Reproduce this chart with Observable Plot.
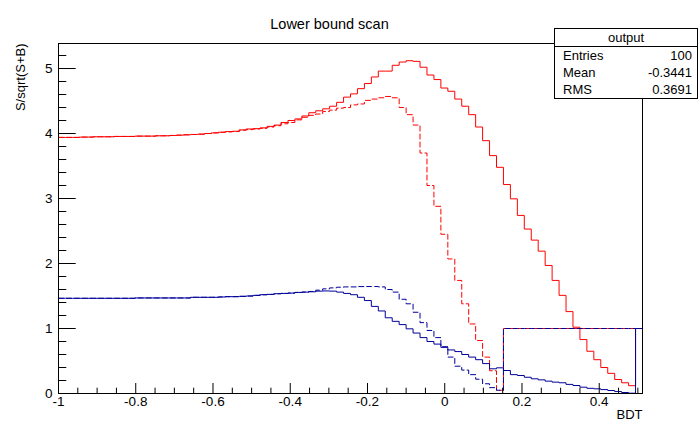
<!DOCTYPE html>
<html>
<head>
<meta charset="utf-8">
<script src="https://cdn.jsdelivr.net/npm/d3@7"></script>
<script src="https://cdn.jsdelivr.net/npm/@observablehq/plot@0.6"></script>
<style>
  body { margin: 0; background: #fff; font-family: "Liberation Sans", Arial, sans-serif; }
  #wrap { position: relative; width: 698px; height: 423px; overflow: hidden; }
  #stats { position: absolute; left: 554px; top: 28px; width: 142px; height: 69px;
           border: 1px solid #000; background: #fff; font-size: 13px; color: #000; box-sizing: content-box; }
  #stats .hdr { height: 17px; line-height: 18px; text-align: center; border-bottom: 1px solid #000; }
  #stats .row { display: flex; justify-content: space-between; height: 17px; line-height: 17px; padding: 0 5px 0 8px; }
</style>
</head>
<body>
<div id="wrap"><div id="chart"></div><div id="stats"></div></div>
<script>
// Histogram definition
const xMin = -1, xMax = 0.512, nBins = 84;

// S/sqrt(S+B) per bin (lower-bound cut scan)
const redSolid = [
  3.94,3.94,3.94,3.945,3.945,3.95,3.95,3.95,3.955,3.955,
  3.955,3.96,3.96,3.96,3.965,3.965,3.97,3.975,3.98,3.985,
  3.99,4.0,4.01,4.02,4.03,4.035,4.056,4.07,4.075,4.087,
  4.11,4.13,4.17,4.20,4.225,4.27,4.32,4.35,4.38,4.42,
  4.48,4.56,4.61,4.69,4.77,4.87,4.96,4.96,5.05,5.10,
  5.12,5.11,5.02,4.90,4.83,4.70,4.65,4.53,4.42,4.29,
  4.10,3.89,3.66,3.48,3.215,2.995,2.74,2.53,2.36,2.19,
  1.97,1.74,1.51,1.26,1.02,0.83,0.65,0.52,0.40,0.31,
  0.215,0.165,0.12,1
];
const redDashed = [
  3.94,3.94,3.94,3.945,3.945,3.95,3.95,3.95,3.955,3.955,
  3.955,3.96,3.96,3.96,3.965,3.965,3.97,3.975,3.98,3.985,
  3.99,4.0,4.01,4.02,4.025,4.03,4.05,4.06,4.07,4.08,
  4.10,4.12,4.15,4.17,4.21,4.25,4.28,4.30,4.34,4.36,
  4.39,4.40,4.44,4.455,4.51,4.53,4.55,4.57,4.55,4.40,
  4.29,4.13,3.70,3.20,2.88,2.45,2.07,1.74,1.38,1.07,
  0.815,0.56,0.35,0.05,1,1,1,1,1,1,
  1,1,1,1,1,1,1,1,1,1,
  1,1,1,1
];
const blueSolid = [
  1.465,1.465,1.465,1.465,1.465,1.465,1.465,1.465,1.465,1.465,
  1.465,1.47,1.47,1.47,1.47,1.47,1.47,1.47,1.47,1.48,
  1.48,1.48,1.48,1.485,1.49,1.49,1.495,1.50,1.51,1.52,
  1.525,1.535,1.54,1.545,1.555,1.56,1.565,1.575,1.578,1.575,
  1.56,1.54,1.52,1.48,1.43,1.34,1.27,1.165,1.11,1.06,
  0.995,0.93,0.86,0.80,0.76,0.71,0.67,0.645,0.60,0.56,
  0.52,0.46,0.38,0.395,0.354,0.29,0.277,0.25,0.226,0.21,
  0.19,0.175,0.165,0.14,0.123,0.097,0.08,0.072,0.06,0.046,
  0.03,0.015,0.005,1
];
const blueDashed = [
  1.465,1.465,1.465,1.465,1.465,1.465,1.465,1.465,1.465,1.465,
  1.465,1.47,1.47,1.47,1.47,1.47,1.47,1.47,1.47,1.48,
  1.48,1.48,1.48,1.485,1.49,1.49,1.495,1.50,1.51,1.52,
  1.525,1.535,1.54,1.545,1.555,1.56,1.57,1.59,1.61,1.625,
  1.635,1.64,1.64,1.645,1.646,1.646,1.64,1.60,1.56,1.45,
  1.38,1.25,1.09,0.97,0.86,0.72,0.56,0.42,0.36,0.29,
  0.22,0.15,0.09,0.05,1,1,1,1,1,1,
  1,1,1,1,1,1,1,1,1,1,
  1,1,1,1
];

// Axis ticks and labels
const xMajor = [-1, -0.8, -0.6, -0.4, -0.2, 0, 0.2, 0.4];
const xTickLabels = ["-1", "-0.8", "-0.6", "-0.4", "-0.2", "0", "0.2", "0.4"];
const xMinor = d3.range(0, 31).map(i => -1 + i * 0.05).filter(v => !xMajor.some(m => Math.abs(m - v) < 1e-9));
const yMajor = [0, 1, 2, 3, 4, 5];
const yTickLabels = ["0", "1", "2", "3", "4", "5"];
const yMinor = d3.range(0, 27).map(i => i * 0.2).filter(v => !yMajor.some(m => Math.abs(m - v) < 1e-9));

const titleText = "Lower bound scan";
const xLabel = "BDT";
const yLabel = "S/sqrt(S+B)";

const statsName = "output";
const statsKeys = ["Entries", "Mean", "RMS"];
const statsVals = ["100", "-0.3441", "0.3691"];

const series = [
  {name: "red solid", values: redSolid, color: "#ff0000", dash: null},
  {name: "red dashed", values: redDashed, color: "#ff0000", dash: "5,3"},
  {name: "blue solid", values: blueSolid, color: "#000099", dash: null},
  {name: "blue dashed", values: blueDashed, color: "#000099", dash: "5,3"}
];
const bw = (xMax - xMin) / nBins;
function steps(vals) {
  const pts = vals.map((v, k) => ({x: xMin + k * bw, y: v}));
  pts.push({x: xMax, y: vals[vals.length - 1]});
  return pts;
}

const lineMarks = series.map(s => Plot.line(steps(s.values), {
  x: "x", y: "y", curve: "step-after", stroke: s.color, strokeWidth: 1,
  strokeDasharray: s.dash
}));

const chart = Plot.plot({
  width: 698,
  height: 423,
  marginLeft: 58,
  marginRight: 56,
  marginTop: 43,
  marginBottom: 30,
  style: {fontFamily: "'Liberation Sans', Arial, sans-serif", fontSize: "13px", background: "#fff", color: "#000"},
  x: {domain: [xMin, xMax]},
  y: {domain: [0, 5.385]},
  marks: [
    ...lineMarks,
    Plot.frame({stroke: "#000", strokeWidth: 1}),
    Plot.axisY(yMajor, {tickSize: -17.7, tickFormat: () => "", label: null, strokeWidth: 1}),
    Plot.axisY(yMinor, {tickSize: -8.3, tickFormat: () => "", label: null, strokeWidth: 1}),
    Plot.axisY(yMajor, {tickSize: 0, tickPadding: 6, fontSize: 13.5, label: null,
      tickFormat: d => yTickLabels[yMajor.indexOf(d)]}),
    Plot.axisX(xMajor, {tickSize: -10, tickFormat: () => "", label: null, strokeWidth: 1}),
    Plot.axisX(xMinor, {tickSize: -5.3, tickFormat: () => "", label: null, strokeWidth: 1}),
    Plot.axisX(xMajor, {tickSize: 0, tickPadding: 3, fontSize: 13.5, label: null,
      tickFormat: d => xTickLabels[xMajor.indexOf(d)]}),
    Plot.text([titleText], {frameAnchor: "top", dx: -21, dy: -25, fontSize: 14.5, text: d => d}),
    Plot.text([yLabel], {frameAnchor: "top-left", rotate: -90, textAnchor: "end", dx: -43, dy: 0, fontSize: 13, text: d => d}),
    Plot.text([xLabel], {frameAnchor: "bottom-right", textAnchor: "end", dy: 25, fontSize: 13, text: d => d})
  ]
});
document.getElementById("chart").appendChild(chart);

const stats = document.getElementById("stats");
const hdr = document.createElement("div");
hdr.className = "hdr";
hdr.textContent = statsName;
stats.appendChild(hdr);
statsKeys.forEach((k, i) => {
  const r = document.createElement("div");
  r.className = "row";
  const a = document.createElement("span"); a.textContent = k;
  const b = document.createElement("span"); b.textContent = statsVals[i];
  r.appendChild(a); r.appendChild(b);
  stats.appendChild(r);
});
</script>
</body>
</html>
